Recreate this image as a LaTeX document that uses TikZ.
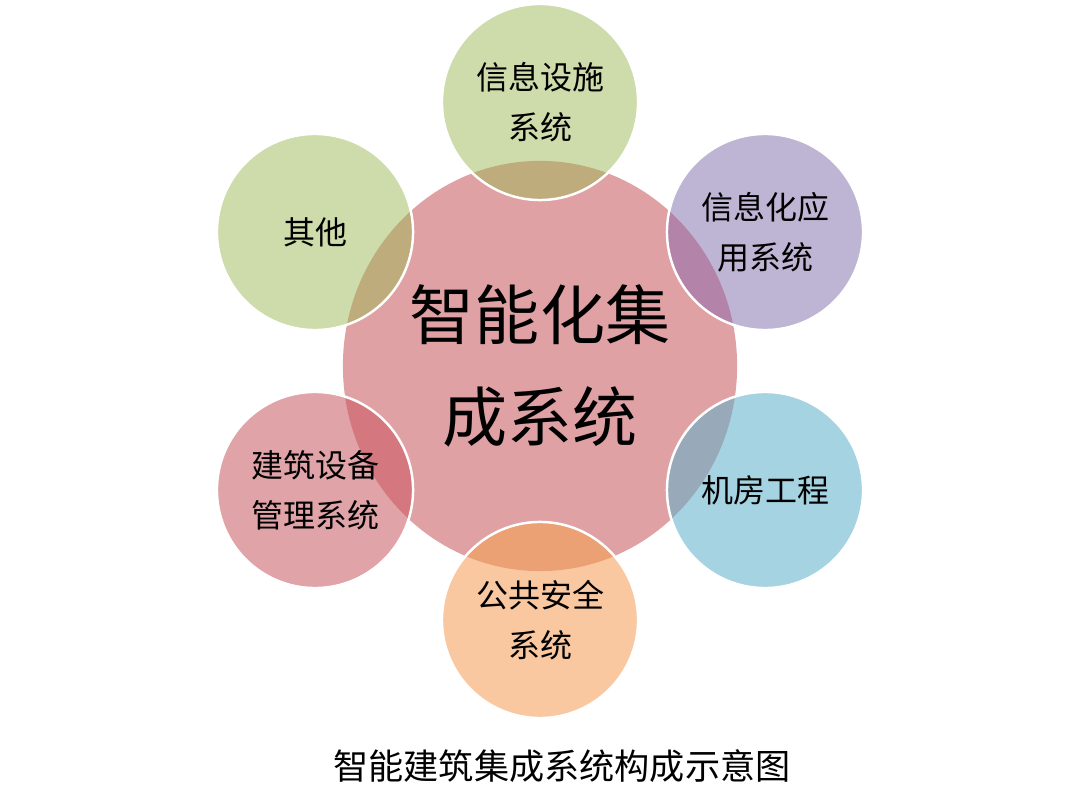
\documentclass[tikz,border=0pt]{standalone}
\usepackage{fontspec}
\usepackage{tikz}
\usetikzlibrary{shapes.geometric}
\usepackage{xcolor}
\newfontfamily\cjk{Noto Sans CJK SC}

\definecolor{corePink}{HTML}{DFA1A4}
\definecolor{satGreen}{HTML}{CEDBAA}
\definecolor{satPurple}{HTML}{BEB5D4}
\definecolor{satBlue}{HTML}{A6D3E2}
\definecolor{satOrange}{HTML}{FAC8A0}
\definecolor{satPink}{HTML}{E0A3A8}
\definecolor{mixGreen}{HTML}{BFAC7C}
\definecolor{mixPurple}{HTML}{B383AA}
\definecolor{mixBlue}{HTML}{98AAB9}
\definecolor{mixOrange}{HTML}{EBA174}
\definecolor{mixPink}{HTML}{D4777F}

\begin{document}
\begin{tikzpicture}[x=0.01cm,y=-0.01cm,
core/.style={ellipse,fill=corePink,minimum width=3.94cm,minimum height=4.1cm,
  inner sep=0pt,align=center,font=\cjk\fontsize{18.5}{29}\selectfont},
sat/.style={circle,fill=#1,draw=white,line width=0.7pt,minimum size=1.96cm,
  inner sep=0pt,align=center,font=\cjk\fontsize{9.1}{14.2}\selectfont},
mix/.style={path picture={\fill[#1] (Core.center) ellipse [x radius=1.97cm,y radius=2.05cm];}}]
%\tikzstyle{every node}=[text=black]

\fill[white] (0,0) rectangle (1080,807);

\node[core] (Core) at (540,366) {智能化集\\成系统};

\node[sat=satGreen,mix=mixGreen] (Info) at (540,102) {信息设施\\系统};
\node[sat=satPurple,mix=mixPurple] (App) at (765,232) {信息化应\\用系统};
\node[sat=satBlue,mix=mixBlue] (Room) at (765,490) {机房工程};
\node[sat=satOrange,mix=mixOrange] (Safety) at (540,620) {公共安全\\系统};
\node[sat=satPink,mix=mixPink] (Bldg) at (315,490) {建筑设备\\管理系统};
\node[sat=satGreen,mix=mixGreen] (Other) at (315,232) {其他};

\node[font=\cjk\fontsize{10}{12}\selectfont] (Caption) at (562,766) {智能建筑集成系统构成示意图};
\end{tikzpicture}
\end{document}
